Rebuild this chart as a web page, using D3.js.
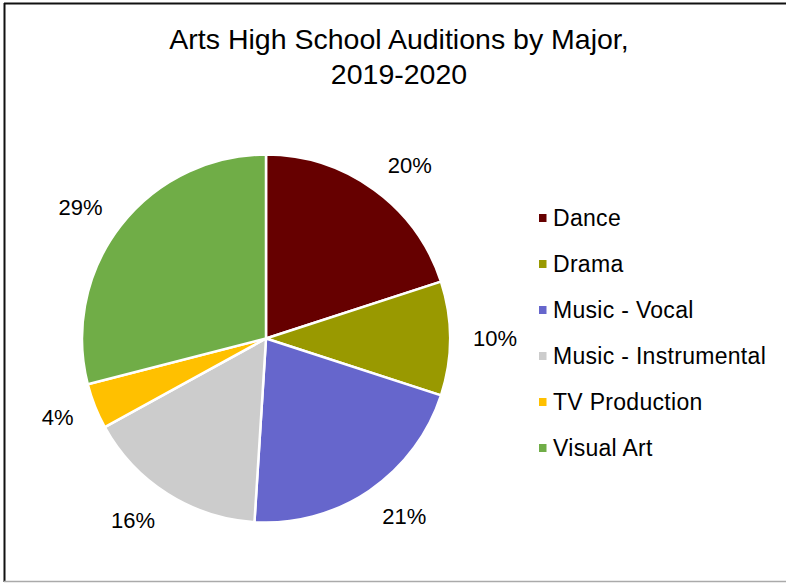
<!DOCTYPE html>
<html>
<head>
<meta charset="utf-8">
<script src="https://cdn.jsdelivr.net/npm/d3@7"></script>
<style>
  html, body { margin: 0; padding: 0; background: #fff; }
  svg { display: block; font-family: "Liberation Sans", Arial, sans-serif; }
</style>
</head>
<body>
<svg id="chart" width="786" height="583"></svg>
<script>
// Audition counts by major, as shares of the total (percent)
const majors = ["Dance", "Drama", "Music - Vocal", "Music - Instrumental", "TV Production", "Visual Art"];
const shares = [20, 10, 21, 16, 4, 29];
const colors = ["#660000", "#999900", "#6666CC", "#CCCCCC", "#FFC000", "#70AD47"];
const titleLines = ["Arts High School Auditions by Major,", "2019-2020"];

const svg = d3.select("#chart");
const W = 786, H = 583;

// Frame
svg.append("rect").attr("x", 0).attr("y", 0).attr("width", W).attr("height", H).attr("fill", "#fff");
svg.append("line").attr("x1", 4).attr("x2", W).attr("y1", 3.5).attr("y2", 3.5)
  .attr("stroke", "#111").attr("stroke-width", 2);
svg.append("line").attr("x1", 4.5).attr("x2", 4.5).attr("y1", 3).attr("y2", 582)
  .attr("stroke", "#111").attr("stroke-width", 2);
svg.append("line").attr("x1", 4).attr("x2", W).attr("y1", 581.5).attr("y2", 581.5)
  .attr("stroke", "#aaa").attr("stroke-width", 1.5);

// Title
const title = svg.append("text").attr("text-anchor", "middle").attr("font-size", 28.5).attr("fill", "#000");
titleLines.forEach((t, i) => {
  title.append("tspan").attr("x", 399).attr("y", 49 + i * 35).text(t);
});

// Pie
const cx = 266, cy = 338.5, r = 184;
const color = d3.scaleOrdinal().domain(majors).range(colors);
const pie = d3.pie().value(d => d.value).sort(null);
const arcs = pie(majors.map((m, i) => ({ name: m, value: shares[i] })));
const arc = d3.arc().innerRadius(0).outerRadius(r);

const g = svg.append("g").attr("transform", `translate(${cx},${cy})`);
g.selectAll("path.slice").data(arcs).join("path")
  .attr("class", "slice")
  .attr("d", arc)
  .attr("fill", d => color(d.data.name))
  .attr("stroke", "#fff")
  .attr("stroke-width", 2.5)
  .attr("stroke-linejoin", "round");

// Data labels outside each slice
const labelFont = 22, labelR = 207;
const total = d3.sum(shares);
g.selectAll("text.lbl").data(arcs).join("text")
  .attr("class", "lbl")
  .attr("font-size", labelFont)
  .attr("fill", "#000")
  .attr("text-anchor", "middle")
  .each(function (d) {
    const a = (d.startAngle + d.endAngle) / 2;
    const s = Math.sin(a), c = Math.cos(a);
    const txt = Math.round(d.data.value / total * 100) + "%";
    const sel = d3.select(this).text(txt);
    const w = this.getComputedTextLength();
    const capH = labelFont * 0.716;
    const x = s * labelR + (Math.abs(s) > 0.05 ? Math.sign(s) * w / 2 : 0);
    const y = -c * labelR - c * capH / 2;
    sel.attr("x", x).attr("y", y + capH / 2);
  });

// Legend
const legend = svg.append("g").attr("transform", "translate(539,218)");
const rowH = 46;
const rows = legend.selectAll("g.row").data(majors).join("g")
  .attr("class", "row")
  .attr("transform", (d, i) => `translate(0,${i * rowH})`);
rows.append("rect").attr("x", 0).attr("y", -4).attr("width", 7.5).attr("height", 8)
  .attr("fill", d => color(d));
rows.append("text").attr("x", 14).attr("y", 8.3).attr("font-size", 23)
  .attr("letter-spacing", 0.3).attr("fill", "#000")
  .text(d => d);
</script>
</body>
</html>
